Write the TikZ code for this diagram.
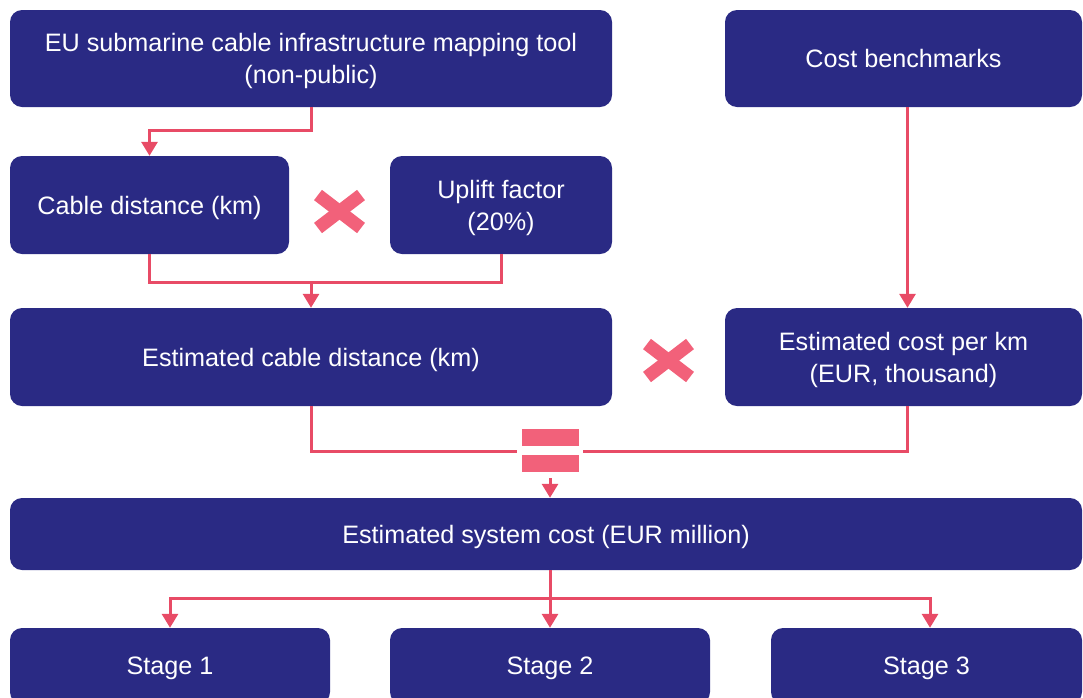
\documentclass[tikz,border=0pt]{standalone}
\usepackage{fontspec}
\setmainfont{Liberation Sans}
\usetikzlibrary{arrows.meta}
\definecolor{navy}{HTML}{2A2A84}
\definecolor{pinkmark}{HTML}{F2617A}
\definecolor{pinkline}{HTML}{E84B66}
\tikzset{
  box/.style={fill=navy, rounded corners=12pt, text=white, align=center,
    font=\fontsize{25.2}{32}\selectfont, inner sep=0pt, text depth=-4pt},
  link/.style={draw=pinkline, line width=3pt},
  arr/.style={link, -{Triangle[width=16pt,length=14pt]}},
  markbar/.style={pinkmark, line width=13pt, line cap=butt},
}
\begin{document}
\begin{tikzpicture}[x=1pt,y=-1pt]
\useasboundingbox (0,0) rectangle (1083,697);
\clip (0,0) rectangle (1083,697);
% source boxes
\node[box, minimum width=602pt, minimum height=97pt] (map) at (311,58.5)
  {EU submarine cable infrastructure mapping tool\\(non-public)};
\node[box, minimum width=357pt, minimum height=97pt] (bench) at (903.5,58.5)
  {Cost benchmarks};
% distance inputs
\node[box, minimum width=279pt, minimum height=98pt] (dist) at (149.5,205)
  {Cable distance (km)};
\node[box, minimum width=222pt, minimum height=98pt] (uplift) at (501,205)
  {Uplift factor\\(20\%)};
% intermediate estimates
\node[box, minimum width=602pt, minimum height=98pt] (estdist) at (311,357)
  {Estimated cable distance (km)};
\node[box, minimum width=357pt, minimum height=98pt] (perkm) at (903.5,357)
  {Estimated cost per km\\(EUR, thousand)};
% result
\node[box, minimum width=1072pt, minimum height=72pt] (sys) at (546,534)
  {Estimated system cost (EUR million)};
% stages
\node[box, minimum width=320pt, minimum height=76pt] (st1) at (170,666) {Stage 1};
\node[box, minimum width=320pt, minimum height=76pt] (st2) at (550,666) {Stage 2};
\node[box, minimum width=311pt, minimum height=76pt] (st3) at (926.5,666) {Stage 3};
% operator symbols
\node[minimum width=66pt, minimum height=54pt, inner sep=0pt] (eq) at (550,451) {};
\fill[pinkmark] (522,429) rectangle (579,446);
\fill[pinkmark] (522,455) rectangle (579,472);
\draw[markbar] (318,195) -- (361,228);
\draw[markbar] (318,228) -- (361,195);
\draw[markbar] (647,344) -- (690,377);
\draw[markbar] (647,377) -- (690,344);
% connectors
\draw[arr] (map.south) -- ++(0,23) -| (dist.north);
\coordinate (join) at (311,282);
\draw[link] (dist.south) |- (join) -| (uplift.south);
\draw[arr] (join) -- (estdist.north);
\draw[arr] ([xshift=4pt]bench.south) -- ([xshift=4pt]perkm.north);
\draw[link] (estdist.south) |- (eq.west);
\draw[link] ([xshift=4pt]perkm.south) |- (eq.east);
\draw[arr] (eq.south) -- (sys.north -| eq.south);
\draw[arr] (sys.south -| st2.north) -- (st2.north);
\coordinate (fork) at (550,598);
\draw[arr] (fork) -| (st1.north);
\draw[arr] (fork) -| ([xshift=3.5pt]st3.north);
\end{tikzpicture}
\end{document}
